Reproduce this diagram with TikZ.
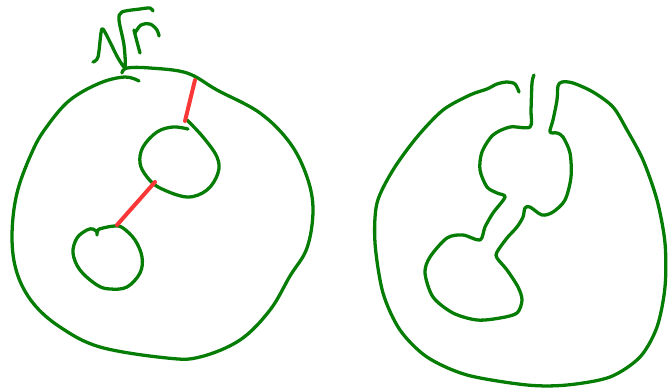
\documentclass[tikz,border=0pt]{standalone}
\definecolor{pen}{RGB}{5,125,5}
\definecolor{cut}{RGB}{250,55,55}
\tikzset{
  ink/.style={draw=pen,line width=2.8pt,line cap=round,line join=round},
  tether/.style={draw=cut,line width=3.4pt,line cap=round}
}
\begin{document}
\begin{tikzpicture}[x={(0.03cm,0)},y={(0,-0.03cm)}]
  \useasboundingbox (0,0) rectangle (669,388);
  % sqrt r
  \draw[ink] plot[smooth,tension=0.5] coordinates{(93,62)(98,57)(101,33)(103,29)(110,42)(118,58)(125,67)(124,45)(119,20)(122,12)(140,9)(150,8)(153,11)};
  \draw[ink] plot[smooth,tension=0.5] coordinates{(140,53)(136,38)(134,30)};
  \draw[ink] plot[smooth,tension=0.6] coordinates{(135,33)(141,25)(150,24)(157,30)(159,36)};
  % left: outer boundary
  \draw[ink] plot[smooth,tension=0.6] coordinates{(139,81)(125,77)(100,83)(70,100)(48,125)(33,150)(17,193)(12,237)(17,273)(33,303)(60,327)(100,347)(167,358)(200,357)(240,340)(270,310)(290,276)(307,248)(313,210)(307,177)(290,143)(260,113)(217,90)(187,73)(150,68)(127,68)(122,73)};
  % left: upper hole
  \draw[ink] plot[smooth,tension=0.6] coordinates{(188,129)(173,127)(157,132)(143,147)(140,163)(147,177)(160,188)(187,197)(207,190)(218,173)(217,157)(203,137)(187,120)};
  % left: lower hole
  \draw[ink] plot[smooth,tension=0.6] coordinates{(97,235)(98,230)(103,228)(115,226)(123,228)(135,240)(142,257)(140,273)(127,287)(110,289)(97,285)(80,270)(73,253)(77,238)(87,230)(93,229)(97,232)};
  % left: cuts
  \coordinate (topend) at (195,80);
  \coordinate (uphole) at (185,121);
  \coordinate (uplow) at (155,182);
  \coordinate (lowhole) at (117,225);
  \draw[tether] (topend) -- (uphole);
  \draw[tether] (uplow) -- (lowhole);
  % right: cut open surface
  \draw[ink] plot[smooth,tension=0.5] coordinates{(519,92)(515,84)(507,82)(497,84)(487,89)(470,95)(443,110)(417,137)(393,170)(377,203)(375,243)(383,293)(400,330)(427,357)(467,375)(527,385)(567,385)(610,377)(640,357)(657,327)(665,287)(665,243)(657,200)(643,160)(627,130)(613,107)(593,92)(573,83)(562,82)(558,86)(557,100)(553,120)(550,132)(557,133)(563,137)(570,153)(571,177)(565,200)(553,212)(542,215)(530,207)(525,208)(523,217)(517,227)(507,238)(497,252)(497,258)(507,270)(518,287)(522,300)(517,313)(500,318)(477,320)(453,313)(433,297)(425,273)(430,257)(447,238)(463,235)(480,240)(485,227)(493,213)(505,197)(497,193)(487,187)(480,170)(482,152)(493,135)(510,127)(530,127)(531,110)(532,83)(534,75)};
\end{tikzpicture}
\end{document}
